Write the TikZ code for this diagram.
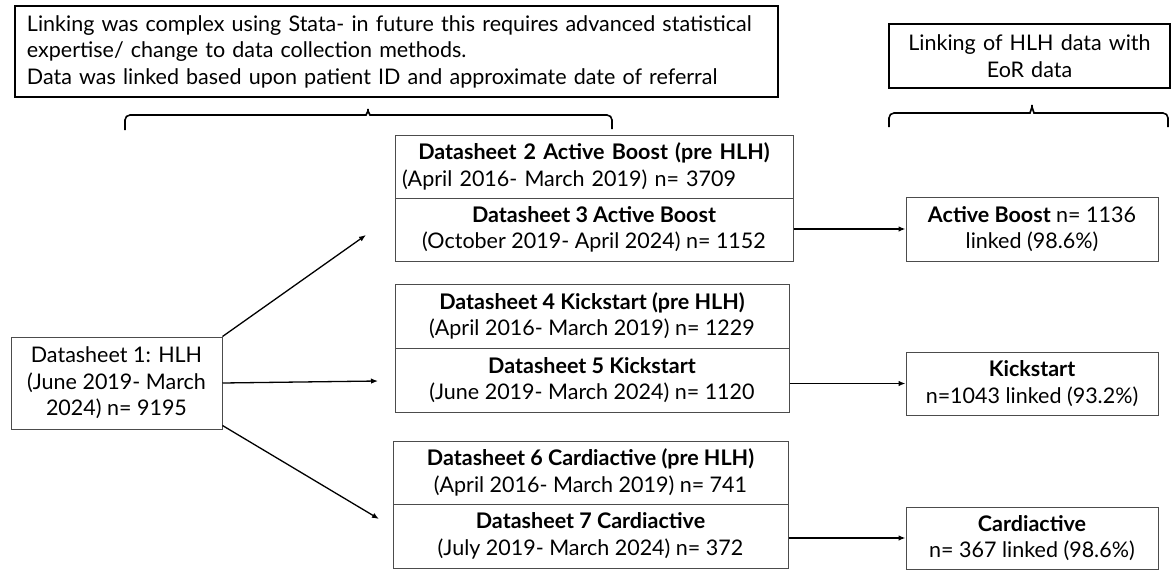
\documentclass[tikz,border=0pt]{standalone}
\usepackage{fontspec}
\setmainfont{Lato}
\usetikzlibrary{arrows.meta}

\begin{document}
\begin{tikzpicture}[x=1pt,y=-1pt,
    box/.style={draw=black!70, line width=1pt, inner sep=0pt, align=center,
        font=\fontsize{21.5}{26.5}\selectfont},
    notebox/.style={box, draw=black, line width=2pt},
    link/.style={-{Latex[length=7pt,width=5.5pt]}, line width=1.3pt},
    brace/.style={line width=1.6pt, rounded corners=5pt}]
    \useasboundingbox (0,0) rectangle (1171,570);

    % notes on the linking
    \node[notebox, minimum width=763, minimum height=91, text width=739, align=left]
        (note) at (396.5,51.5) {Linking was complex using Stata- in future this requires advanced statistical\\
        expertise/ change to data collection methods.\\
        Data was linked based upon patient ID and approximate date of referral};
    \node[notebox, minimum width=281, minimum height=64, text width=270]
        (eor) at (1029.5,56) {Linking of HLH data with\\EoR data};

    % braces under the notes
    \draw[brace] (125,130) -- (125,115) -- (361,115)
        .. controls (366,115) and (368,111) .. (368,106)
        .. controls (368,111) and (370,115) .. (375,115) -- (612,115) -- (612,129);
    \draw[brace] (889,127) -- (889,113) -- (1025,113)
        .. controls (1030,113) and (1032,107) .. (1032,102)
        .. controls (1032,107) and (1034,113) .. (1039,113) -- (1168,113) -- (1168,127);

    % HLH datasheet
    \node[box, minimum width=211, minimum height=92] (ds1) at (116.5,383)
        {Datasheet 1: HLH\\(June 2019- March\\2024) n= 9195};

    % programme datasheets
    \node[box, minimum width=398, minimum height=63, text width=384] (ds2) at (594,166.5)
        {\textbf{Datasheet 2 Active Boost (pre HLH)}\\
        \makebox[\linewidth][l]{(April 2016- March 2019) n= 3709}};
    \node[box, minimum width=398, minimum height=63] (ds3) at (594,229.5)
        {\textbf{Datasheet 3 Active Boost}\\(October 2019- April 2024) n= 1152};
    \node[box, minimum width=394, minimum height=64] (ds4) at (592,316)
        {\textbf{Datasheet 4 Kickstart (pre HLH)}\\(April 2016- March 2019) n= 1229};
    \node[box, minimum width=394, minimum height=64] (ds5) at (592,380)
        {\textbf{Datasheet 5 Kickstart}\\(June 2019- March 2024) n= 1120};
    \node[box, minimum width=395, minimum height=63] (ds6) at (590.5,472.5)
        {\textbf{Datasheet 6 Cardiactive (pre HLH)}\\(April 2016- March 2019) n= 741};
    \node[box, minimum width=395, minimum height=64] (ds7) at (590.5,536)
        {\textbf{Datasheet 7 Cardiactive}\\(July 2019- March 2024) n= 372};

    % linked results
    \node[box, minimum width=252, minimum height=64] (ab) at (1032,229)
        {\textbf{Active Boost} n= 1136\\linked (98.6\%)};
    \node[box, minimum width=252, minimum height=63] (ks) at (1032,383.5)
        {\textbf{Kickstart}\\n=1043 linked (93.2\%)};
    \node[box, minimum width=252, minimum height=62] (ca) at (1032,538)
        {\textbf{Cardiactive}\\n= 367 linked (98.6\%)};

    % arrows
    \coordinate (in3) at (366,235);
    \coordinate (in5) at (378,381);
    \coordinate (in7) at (379,519);
    \draw[link] (ds1.north east) -- (in3);
    \draw[link] (ds1.east) -- (in5);
    \draw[link] ([yshift=4]ds1.south east) -- (in7);
    \draw[link] (ab.west -| ds3.east) -- (ab.west);
    \draw[link] (ks.west -| ds5.east) -- (ks.west);
    \draw[link] (ca.west -| ds7.east) -- (ca.west);
\end{tikzpicture}
\end{document}
